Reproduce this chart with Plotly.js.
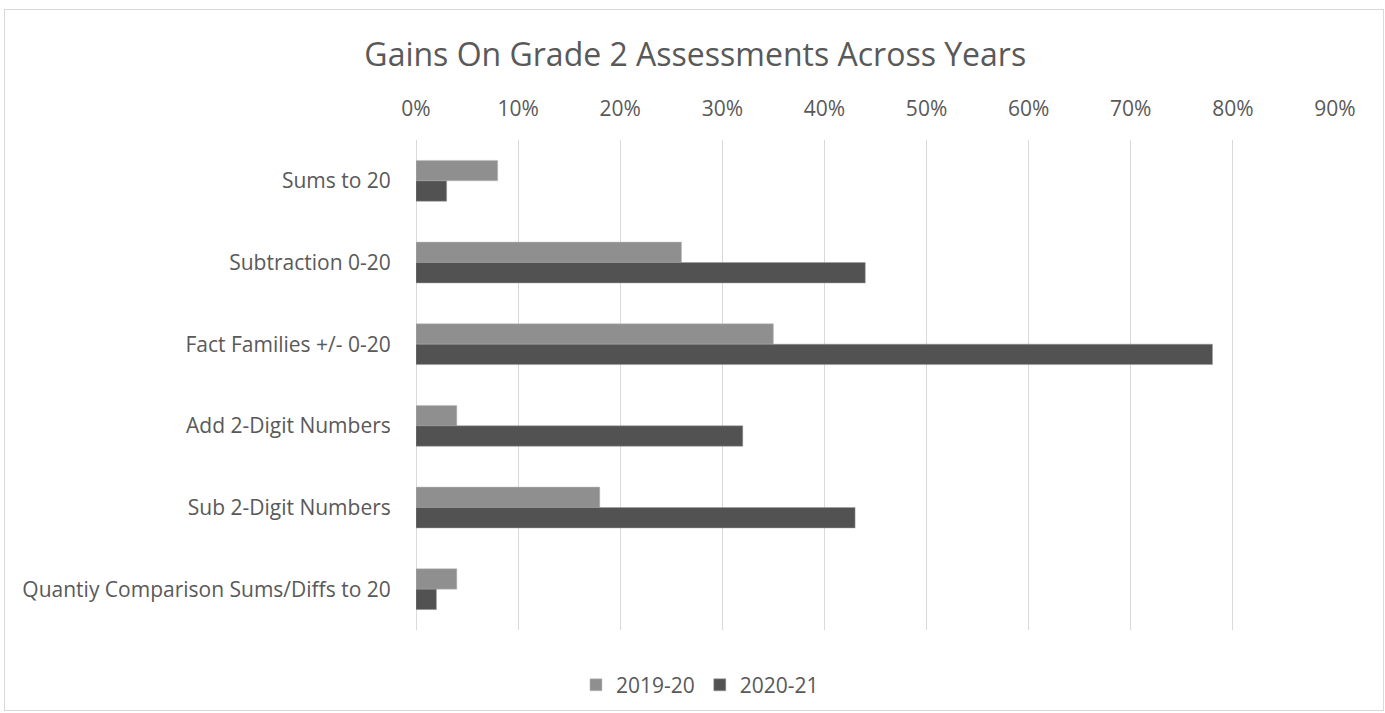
<!DOCTYPE html>
<html>
<head>
<meta charset="utf-8">
<script src="https://cdn.plot.ly/plotly-3.0.1.min.js"></script>
<style>
html,body{margin:0;padding:0;background:#fff;}
#wrap{position:relative;width:1385px;height:713px;}
#chart{position:absolute;left:0;top:0;width:1385px;height:713px;}
#frame{position:absolute;left:4px;top:9px;width:1378px;height:700px;border:1px solid #d9d9d9;pointer-events:none;}
</style>
</head>
<body>
<div id="wrap">
<div id="chart"></div>
<div id="frame"></div>
</div>
<script>
const categories = ["Sums to 20", "Subtraction 0-20", "Fact Families +/- 0-20", "Add 2-Digit Numbers", "Sub 2-Digit Numbers", "Quantiy Comparison Sums/Diffs to 20"];
const series2019 = [8, 26, 35, 4, 18, 4];
const series2020 = [3, 44, 78, 32, 43, 2];
const seriesNames = ["2019-20", "2020-21"];

const font = "'Open Sans', 'Noto Sans', sans-serif";
const txt = "#595959";

const traces = [
  {type:"bar", orientation:"h", name:seriesNames[0], y:categories, x:series2019,
   marker:{color:"#8f8f8f", line:{color:"#bdbdbd", width:0.5}}, hoverinfo:"x+y"},
  {type:"bar", orientation:"h", name:seriesNames[1], y:categories, x:series2020,
   marker:{color:"#525252", line:{color:"#9a9a9a", width:0.5}}, hoverinfo:"x+y"}
];

const layout = {
  width:1385, height:713,
  margin:{l:416, r:50, t:140, b:83, autoexpand:false},
  paper_bgcolor:"rgba(0,0,0,0)", plot_bgcolor:"#fff",
  font:{family:font, color:txt, size:21},
  title:{text:"Gains On Grade 2 Assessments Across Years", font:{family:font, size:32, color:txt},
         xref:"container", x:0.502, xanchor:"center", yref:"container", y:0.923, yanchor:"middle"},
  barmode:"group", bargap:0.5, bargroupgap:0,
  xaxis:{side:"top", range:[0,90], dtick:10, tick0:0, ticksuffix:"%",
         showgrid:true, gridcolor:"#d9d9d9", gridwidth:1,
         zeroline:true, zerolinecolor:"#d9d9d9", zerolinewidth:1,
         showline:false, ticks:"outside", ticklen:15, tickcolor:"rgba(0,0,0,0)",
         tickfont:{size:21, color:txt}, fixedrange:true, automargin:false},
  yaxis:{autorange:"reversed", type:"category", showgrid:false, zeroline:false, showline:false,
         ticks:"outside", ticklen:20, tickcolor:"rgba(0,0,0,0)",
         tickfont:{size:21, color:txt}, fixedrange:true, automargin:false},
  legend:{orientation:"h", x:0.309, xanchor:"center", yref:"container", y:0.039, yanchor:"middle",
          font:{size:21, color:txt}, traceorder:"normal"},
  showlegend:true
};

Plotly.newPlot("chart", traces, layout, {displayModeBar:false, staticPlot:true});
</script>
</body>
</html>
